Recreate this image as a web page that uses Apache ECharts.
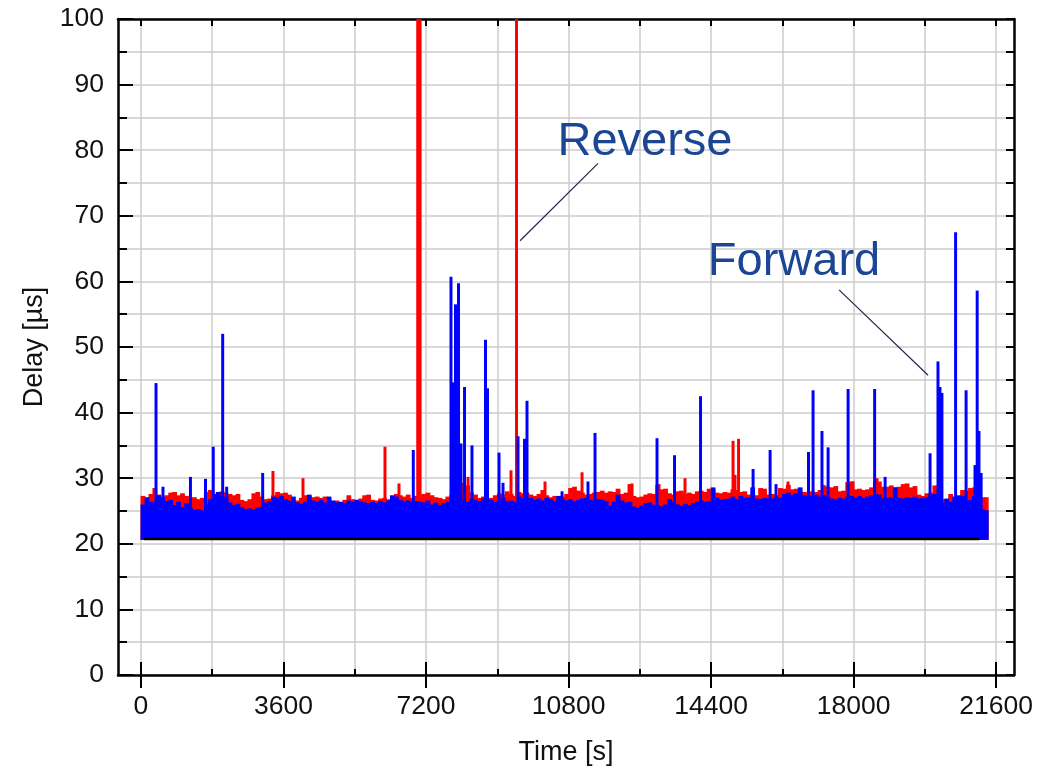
<!DOCTYPE html>
<html><head><meta charset="utf-8">
<script src="https://cdn.jsdelivr.net/npm/echarts@6/dist/echarts.min.js"></script>
<style>html,body{margin:0;padding:0;background:#fff}#c{width:1050px;height:773px}</style>
</head><body><div id="c"></div>
<script>
// ---------------- data ----------------
const xMajorTicks = [0, 3600, 7200, 10800, 14400, 18000, 21600];
const xMinorTicks = [1800, 5400, 9000, 12600, 16200, 19800];
const envelopeBinStart = 0;      // s
const envelopeBinWidth = 100;    // s
// upper envelope of the dense noise band (µs), one value per 100 s bin
const reverseEnvelope = [
 27.3,26.7,27.6,28.5,27.5,27.2,27.4,27.8,27.9,27.4,27.7,27.3,26.9,27.1,26.8,27.0,27.9,28.2,27.2,27.0,
 28.0,27.8,27.6,27.4,27.6,26.7,26.5,26.8,27.7,27.9,27.2,26.8,26.9,27.4,27.9,27.7,27.8,27.5,
 26.7,26.6,27.0,27.4,27.3,27.1,27.2,27.0,27.2,26.9,26.5,26.6,26.4,26.7,27.4,26.8,26.7,26.9,27.4,27.5,
 26.7,26.6,26.9,27.0,26.8,27.2,27.6,27.4,27.2,27.5,27.0,27.3,27.5,27.6,27.8,27.4,27.1,
 27.0,26.8,27.2,27.5,27.8,28.6,28.3,28.9,27.8,27.5,27.0,27.2,26.9,27.0,27.4,27.7,27.5,28.0,27.6,27.3,
 27.9,27.7,27.8,27.5,27.3,27.6,28.2,27.4,27.1,27.3,27.0,27.2,27.6,28.5,28.7,28.1,27.8,27.5,27.6,
 27.8,27.9,28.1,27.8,28.0,27.9,28.4,27.6,27.8,29.1,27.3,27.1,27.2,27.5,27.7,27.6,29.0,28.3,28.4,27.7,
 27.5,28.0,28.1,27.6,27.8,27.6,28.0,28.1,27.9,28.4,28.3,27.8,27.7,27.9,27.8,
 28.3,28.2,27.9,28.0,27.5,27.6,27.4,28.5,28.4,27.5,27.6,27.4,28.5,28.4,29.0,28.3,28.4,28.0,27.9,27.8,
 28.0,27.9,28.2,28.9,28.7,28.6,28.8,28.0,28.1,29.4,29.5,28.3,28.4,28.2,28.3,28.6,29.6,29.5,28.7,
 28.7,28.9,28.6,28.7,29.1,29.2,28.6,28.8,27.5,27.3,27.7,27.8,28.9,27.5,26.8,26.2,27.6,25.9,26.8,28.2,
 28.1,28.5,28.6,27.4,27.1,27.1
];
const forwardEnvelope = [
 26.0,27.1,26.4,26.3,27.4,27.0,26.5,26.7,25.9,26.4,25.6,26.2,25.5,25.2,25.3,25.1,26.0,26.8,27.6,27.9,
 27.3,27.0,26.3,25.9,26.1,25.6,25.3,25.4,25.2,25.5,25.6,26.3,26.5,27.2,27.1,27.3,26.8,26.6,
 27.2,26.3,26.1,26.4,27.5,26.6,26.4,26.7,26.3,27.2,26.6,26.3,26.4,26.2,26.6,26.4,26.7,26.5,26.3,26.2,
 26.4,26.2,26.5,26.3,26.6,27.4,27.2,26.7,26.5,26.6,26.4,26.5,26.4,26.3,26.6,26.0,26.3,
 25.9,26.2,26.4,27.0,26.8,27.2,26.6,26.4,26.8,26.7,26.5,26.9,26.6,26.7,26.4,26.6,27.0,26.5,26.6,26.4,
 27.2,27.0,26.9,27.0,26.7,26.9,26.6,27.0,26.8,26.5,27.3,26.8,26.6,26.8,26.5,26.7,26.9,27.0,26.7,
 26.6,26.8,26.7,26.5,25.8,26.4,27.5,26.6,26.3,26.4,25.7,25.5,25.8,26.2,26.3,26.0,25.9,25.7,26.0,26.8,
 26.4,26.0,25.8,26.1,25.9,26.2,26.4,26.6,26.4,26.5,28.6,27.0,26.7,26.8,26.9,
 27.2,26.8,27.3,27.0,27.1,28.6,26.9,26.8,27.0,26.9,26.9,27.1,27.0,27.6,27.8,27.5,27.7,28.6,27.4,27.2,
 27.3,27.5,27.2,27.4,27.1,26.9,26.8,27.0,26.9,27.2,27.3,27.1,27.3,27.0,27.2,27.4,27.6,27.5,26.9,
 27.0,27.1,28.6,27.0,26.9,27.1,27.0,27.2,26.9,27.0,27.1,27.5,27.6,26.8,26.2,26.9,26.4,27.2,27.4,27.3,
 26.5,26.7,27.3,27.0,25.3,25.1
];
// individual spikes [time s, delay µs]
const reverseSpikes = [
 [3334,31.1],[4092,30.0],[6163,34.8],[6517,29.2],[6990,130],[7050,130],[8108,29.3],[8260,30.2],
 [9346,31.2],[9485,130],[10205,29.5],[11140,30.9],[12403,29.2],[13085,29.1],[13741,30.0],
 [14954,35.7],[15004,30.5],[15093,36.0],[16343,29.5],[17227,29.0],[17985,29.5],[18591,30.0]
];
const forwardSpikes = [
 [380,44.5],[556,28.7],[1250,30.2],[1630,29.9],[1826,34.8],[2064,52.0],[2165,28.7],[3074,30.8],
 [6878,34.3],[7830,60.7],[7880,44.6],[7944,56.5],[8020,59.7],[8083,35.3],[8172,43.9],[8360,35.0],
 [8702,51.1],[8753,43.7],[9043,33.9],[9144,29.3],[9523,36.4],[9687,36.0],[9750,41.8],[10635,28.0],
 [11290,29.5],[11468,36.9],[13034,36.1],[13476,33.5],[14133,42.5],[15460,31.4],[15890,34.3],
 [16040,29.1],[16860,34.0],[16975,43.4],[17200,37.2],[17355,34.7],[17860,43.6],[18530,43.6],
 [18795,30.2],[19930,33.8],[20130,47.8],[20180,43.9],[20230,43.0],[20575,67.5],[20840,43.4],
 [21065,32.0],[21120,58.6],[21165,37.2],[21220,30.8]
];
const bandFloor = 20.6;
const floorLine = [[80, 20.75], [21170, 20.75]];
const reverseLeader = [[11544, 78.0], [9574, 66.2]];
const forwardLeader = [[17632, 58.7], [19880, 45.7]];

// ---------------- chart ----------------
const FONT = '"Liberation Sans", Arial, sans-serif';
const RED = '#ff0000', BLUE = '#0000ff';
const xMin = -580, xMax = 22050;
const xAllTicks = xMajorTicks.concat(xMinorTicks).sort((a, b) => a - b);

function envData(arr) {
  return arr.map((v, i) => [envelopeBinStart + envelopeBinWidth * (i + 0.5), v]);
}
function rectRenderer(halfW, color, padPx) {
  return function (params, api) {
    const t = api.value(0);
    const v = Math.min(api.value(1), 101);
    const p0 = api.coord([t - halfW, bandFloor]);
    const p1 = api.coord([t + halfW, v]);
    return {
      type: 'rect',
      shape: { x: p0[0] - padPx, y: p1[1], width: p1[0] - p0[0] + 2 * padPx, height: p0[1] - p1[1] },
      style: { fill: color }
    };
  };
}
const gray = { color: '#cccccc', width: 1.5 };
const blackLine = { color: '#000', width: 2.5 };
const tickStyle = { color: '#000', width: 2 };

const option = {
  animation: false,
  backgroundColor: '#fff',
  grid: { left: 118, right: 36, top: 19, bottom: 98, containLabel: false },
  xAxis: [
    { type: 'value', min: xMin, max: xMax, position: 'bottom',
      axisLine: { show: true, onZero: false, lineStyle: blackLine },
      axisTick: { show: true, inside: true, length: 6, lineStyle: tickStyle, customValues: xAllTicks },
      axisLabel: { customValues: xMajorTicks, fontSize: 26.5, color: '#111', fontFamily: FONT, margin: 18,
                   formatter: v => String(v) },
      splitLine: { show: true, lineStyle: gray },
      name: 'Time [s]', nameLocation: 'middle', nameGap: 64,
      nameTextStyle: { fontSize: 27, color: '#111', fontFamily: FONT } },
    { type: 'value', min: xMin, max: xMax, position: 'bottom',
      axisLine: { show: false },
      axisTick: { show: true, inside: true, length: 13, lineStyle: tickStyle, customValues: xMajorTicks },
      axisLabel: { show: false }, splitLine: { show: false } },
    { type: 'value', min: xMin, max: xMax, position: 'top',
      axisLine: { show: true, onZero: false, lineStyle: blackLine },
      axisTick: { show: true, inside: true, length: 7, lineStyle: tickStyle, customValues: xAllTicks },
      axisLabel: { show: false }, splitLine: { show: false } },
    { type: 'value', min: xMin, max: xMax, position: 'top',
      axisLine: { show: false },
      axisTick: { show: true, inside: true, length: 13, lineStyle: tickStyle, customValues: xMajorTicks },
      axisLabel: { show: false }, splitLine: { show: false } }
  ],
  yAxis: [
    { type: 'value', min: 0, max: 100, interval: 10, position: 'left',
      axisLine: { show: true, onZero: false, lineStyle: blackLine },
      axisTick: { show: true, inside: true, length: 15, lineStyle: tickStyle },
      minorTick: { show: true, splitNumber: 2, length: 9, lineStyle: tickStyle },
      axisLabel: { fontSize: 26.5, color: '#111', fontFamily: FONT, margin: 14 },
      splitLine: { show: true, lineStyle: gray },
      minorSplitLine: { show: true, lineStyle: gray },
      name: 'Delay [µs]', nameLocation: 'middle', nameGap: 70, nameRotate: 90,
      nameTextStyle: { fontSize: 27, color: '#111', fontFamily: FONT } },
    { type: 'value', min: 0, max: 100, interval: 5, position: 'right',
      axisLine: { show: true, onZero: false, lineStyle: blackLine },
      axisTick: { show: true, inside: true, length: 8, lineStyle: tickStyle },
      axisLabel: { show: false }, splitLine: { show: false } }
  ],
  series: [
    { type: 'custom', name: 'Reverse band', clip: true, z: 2,
      renderItem: rectRenderer(envelopeBinWidth / 2, RED, 0.4), data: envData(reverseEnvelope) },
    { type: 'custom', name: 'Reverse spikes', clip: true, z: 2,
      renderItem: rectRenderer(30, RED, 0.3), data: reverseSpikes },
    { type: 'custom', name: 'Forward band', clip: true, z: 3,
      renderItem: rectRenderer(envelopeBinWidth / 2, BLUE, 0.4), data: envData(forwardEnvelope) },
    { type: 'custom', name: 'Forward spikes', clip: true, z: 3,
      renderItem: rectRenderer(30, BLUE, 0.3), data: forwardSpikes },
    { type: 'line', name: 'floor', data: floorLine, symbol: 'none', z: 4,
      lineStyle: { color: '#000', width: 2.5 } },
    { type: 'line', name: 'reverse leader', data: reverseLeader, symbol: 'none', z: 5,
      lineStyle: { color: '#1b2a4a', width: 1.2 } },
    { type: 'line', name: 'forward leader', data: forwardLeader, symbol: 'none', z: 5,
      lineStyle: { color: '#1b2a4a', width: 1.2 } }
  ],
  graphic: [
    { type: 'text', x: 645, y: 142, z: 10,
      style: { text: 'Reverse', fill: '#1c4694', font: '47px ' + FONT, align: 'center', verticalAlign: 'middle' } },
    { type: 'text', x: 794, y: 262, z: 10,
      style: { text: 'Forward', fill: '#1c4694', font: '47px ' + FONT, align: 'center', verticalAlign: 'middle' } }
  ]
};
const chart = echarts.init(document.getElementById('c'), null, { renderer: 'canvas' });
chart.setOption(option);
</script>
</body></html>
